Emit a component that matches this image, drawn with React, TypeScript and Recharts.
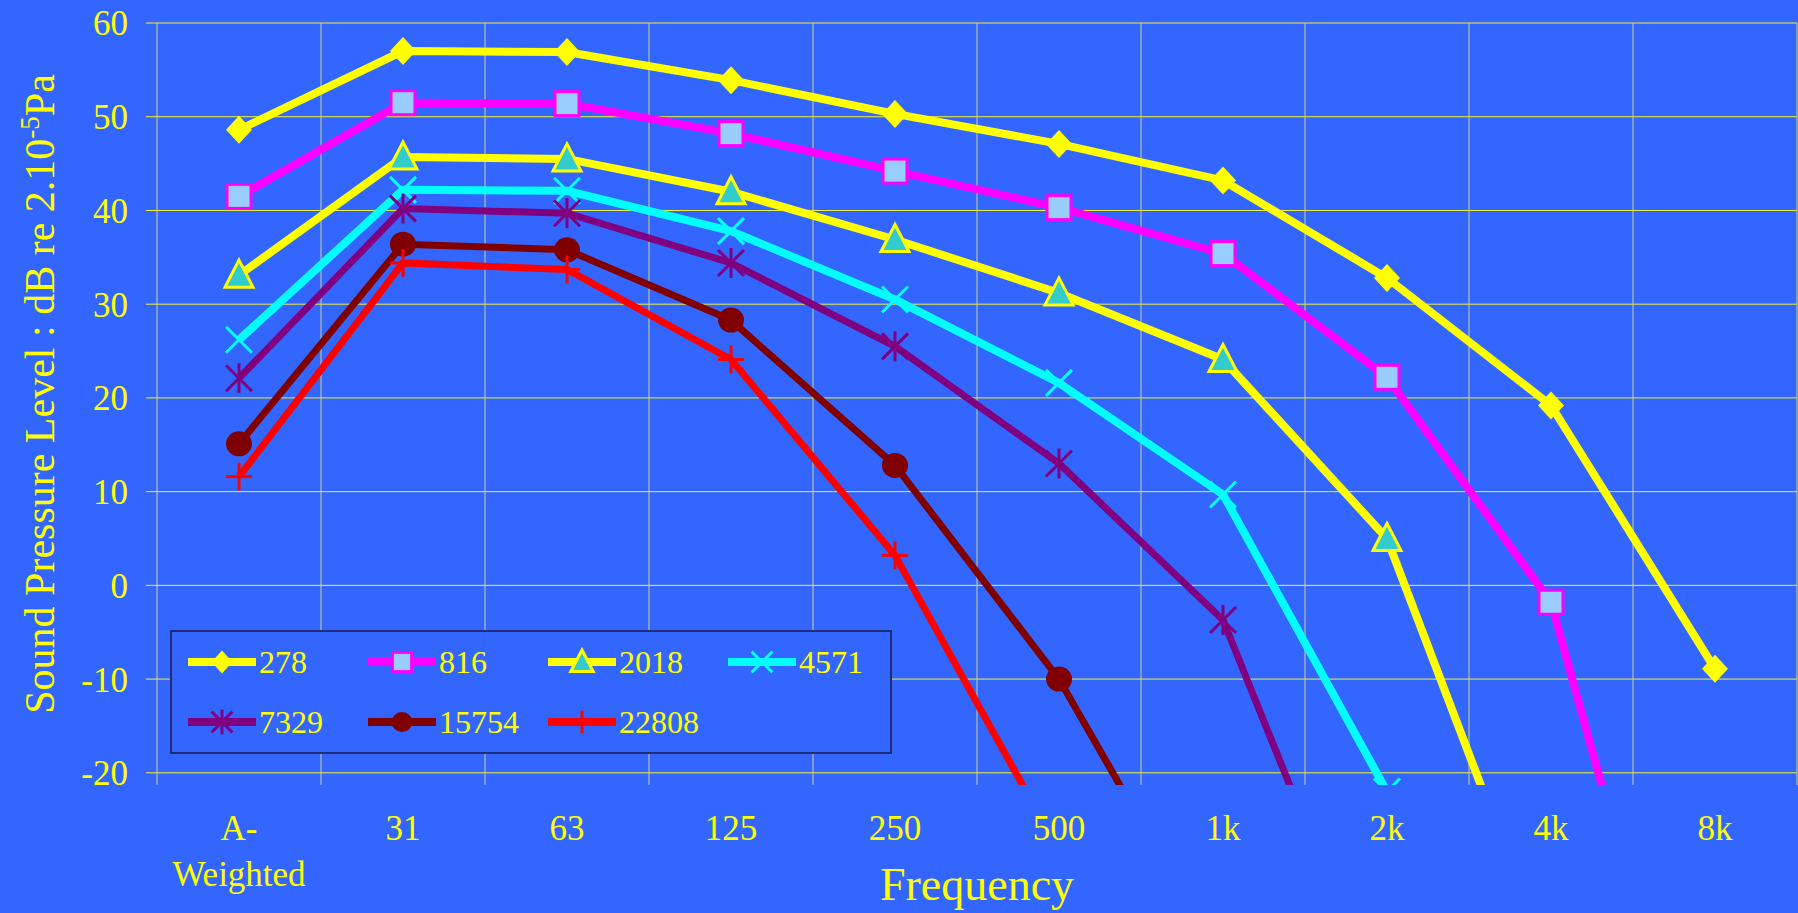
import { LineChart, Line, XAxis, YAxis, CartesianGrid } from "recharts";

const categories = ["A-Weighted", "31", "63", "125", "250", "500", "1k", "2k", "4k", "8k"];

// dB readings per series (null = off the bottom of the chart)
const spl278 = [48.6, 57.0, 56.9, 53.9, 50.3, 47.1, 43.2, 32.8, 19.2, -8.9];
const spl816 = [41.5, 51.5, 51.4, 48.2, 44.2, 40.3, 35.4, 22.2, -1.8, -65];
const spl2018 = [33.1, 45.7, 45.5, 42.0, 36.9, 31.2, 24.1, 5.0, -41, null];
const spl4571 = [26.2, 42.2, 42.1, 37.8, 30.5, 21.6, 9.7, -22, null, null];
const spl7329 = [22.1, 40.2, 39.7, 34.4, 25.5, 13.0, -3.7, -47, null, null];
const spl15754 = [15.1, 36.4, 35.8, 28.3, 12.8, -10.0, -40.5, null, null, null];
const spl22808 = [11.6, 34.4, 33.7, 24.1, 3.2, -28.3, null, null, null, null];

const yTicks = [-20, -10, 0, 10, 20, 30, 40, 50, 60];

const YELLOW = "#ffff00";
const BG = "#3366ff";
const FONT = "'Liberation Serif', 'Times New Roman', serif";

type MarkerKind = "diamond" | "square" | "triangle" | "x" | "star" | "circle" | "plus";

const series: { name: string; values: (number | null)[]; color: string; marker: MarkerKind; width: number }[] = [
	{ name: "278", values: spl278, color: "#ffff00", marker: "diamond", width: 8 },
	{ name: "816", values: spl816, color: "#ff00ff", marker: "square", width: 8 },
	{ name: "2018", values: spl2018, color: "#ffff00", marker: "triangle", width: 8 },
	{ name: "4571", values: spl4571, color: "#00ffff", marker: "x", width: 8 },
	{ name: "7329", values: spl7329, color: "#800080", marker: "star", width: 7 },
	{ name: "15754", values: spl15754, color: "#800000", marker: "circle", width: 7 },
	{ name: "22808", values: spl22808, color: "#ff0000", marker: "plus", width: 7 },
];

const data = categories.map((band, i) => {
	const row: Record<string, number | string | null> = { band, pos: i + 0.5 };
	series.forEach((s) => {
		row[s.name] = s.values[i];
	});
	return row;
});

const boundaryTicks = categories.map((_, i) => i).concat(categories.length);
const centerTicks = categories.map((_, i) => i + 0.5);

function Marker({ kind, x, y, color, s = 1 }: { kind: MarkerKind; x: number; y: number; color: string; s?: number }) {
	const k = 13 * s;
	switch (kind) {
		case "diamond":
			return <polygon points={`${x},${y - k - 1} ${x + k},${y} ${x},${y + k + 1} ${x - k},${y}`} fill={color} />;
		case "square":
			return <rect x={x - 12 * s} y={y - 12 * s} width={24 * s} height={24 * s} fill="#99ccff" stroke={color} strokeWidth={3} />;
		case "triangle":
			return (
				<polygon
					points={`${x},${y - 15 * s} ${x + 14 * s},${y + 12 * s} ${x - 14 * s},${y + 12 * s}`}
					fill="#33cccc"
					stroke={color}
					strokeWidth={3}
				/>
			);
		case "x":
			return (
				<g stroke={color} strokeWidth={3}>
					<line x1={x - k} y1={y - k} x2={x + k} y2={y + k} />
					<line x1={x - k} y1={y + k} x2={x + k} y2={y - k} />
				</g>
			);
		case "star":
			return (
				<g stroke={color} strokeWidth={3}>
					<line x1={x - k} y1={y - k} x2={x + k} y2={y + k} />
					<line x1={x - k} y1={y + k} x2={x + k} y2={y - k} />
					<line x1={x} y1={y - k - 2} x2={x} y2={y + k + 2} />
				</g>
			);
		case "circle":
			return <ellipse cx={x} cy={y} rx={13 * s} ry={12.5 * s} fill={color} />;
		case "plus":
		default:
			return (
				<g stroke={color} strokeWidth={3}>
					<line x1={x - k} y1={y} x2={x + k} y2={y} />
					<line x1={x} y1={y - k - 1} x2={x} y2={y + k + 1} />
				</g>
			);
	}
}

function BandTick(props: any) {
	const { x, y, payload } = props;
	const label = categories[Math.floor(payload.value)] ?? "";
	const lines = label === "A-Weighted" ? ["A-", "Weighted"] : [label];
	return (
		<g>
			{lines.map((l, i) => (
				<text key={i} x={x} y={y + 55 + i * 46} textAnchor="middle" fill={YELLOW} fontSize={35} fontFamily={FONT}>
					{l}
				</text>
			))}
		</g>
	);
}

function YTitle(props: any) {
	const vb = props?.viewBox ?? { x: 0, y: 23, width: 157, height: 762 };
	const cx = 54;
	const cy = vb.y + vb.height / 2 - 10;
	return (
		<text x={cx} y={cy} transform={`rotate(-90, ${cx}, ${cy})`} textAnchor="middle" fill={YELLOW} fontSize={42} fontFamily={FONT}>
			Sound Pressure Level : dB re 2.10
			<tspan dy={-15} fontSize={27}>
				-5
			</tspan>
			<tspan dy={15}>Pa</tspan>
		</text>
	);
}

// vertical grid lines sit on the category boundaries, not the centres
const boundaryLines = ({ xAxis, offset }: any) =>
	boundaryTicks.map((b) =>
		typeof xAxis?.scale === "function" ? xAxis.scale(b) : offset.left + (offset.width * b) / categories.length
	);

function LegendBox() {
	return (
		<div
			style={{
				position: "absolute",
				left: 170,
				top: 630,
				width: 722,
				height: 124,
				boxSizing: "border-box",
				border: "2px solid #1c2a78",
				background: BG,
				padding: "0 0 0 15px",
				display: "grid",
				gridTemplateColumns: "repeat(4, 180px)",
				gridAutoRows: 60,
				fontFamily: FONT,
				color: YELLOW,
				fontSize: 32,
			}}
		>
			{series.map((s) => (
				<div key={s.name} style={{ display: "flex", alignItems: "center" }}>
					<svg width={70} height={40} style={{ display: "block" }}>
						<line x1={1} y1={20} x2={69} y2={20} stroke={s.color} strokeWidth={8} />
						<Marker kind={s.marker} x={35} y={20} color={s.color} s={0.8} />
					</svg>
					<span style={{ marginLeft: 2, lineHeight: 1 }}>{s.name}</span>
				</div>
			))}
		</div>
	);
}

export default function App() {
	return (
		<div style={{ position: "absolute", left: 0, top: 0, width: 1798, height: 913, background: BG }}>
			<LineChart width={1798} height={913} data={data} margin={{ top: 23, right: 1, bottom: 0, left: 0 }}>
				<XAxis
					xAxisId="band"
					type="number"
					dataKey="pos"
					domain={[0, categories.length]}
					ticks={centerTicks}
					tick={<BandTick />}
					tickLine={false}
					axisLine={false}
					tickSize={0}
					tickMargin={0}
					height={128}
					interval={0}
					label={{ value: "Frequency", position: "insideBottom", offset: 13, fill: YELLOW, fontSize: 46, fontFamily: FONT }}
				/>
				<YAxis
					type="number"
					domain={[-21.3, 60]}
					allowDataOverflow
					ticks={yTicks}
					interval={0}
					width={157}
					axisLine={false}
					tickSize={11}
					tickMargin={18}
					tickLine={{ stroke: "#f2f230", strokeWidth: 1 }}
					tick={{ fill: YELLOW, fontSize: 35, fontFamily: FONT }}
					label={(p: any) => <YTitle {...p} />}
				/>
				<CartesianGrid
					xAxisId="band"
					horizontal={true}
					vertical={false}
					horizontalValues={yTicks}
					stroke="#f2f230"
					strokeWidth={1}
				/>
				<CartesianGrid
					xAxisId="band"
					horizontal={false}
					vertical={true}
					verticalCoordinatesGenerator={boundaryLines}
					stroke="#d0d080"
					strokeWidth={1}
				/>
				{series.map((s) => (
					<Line
						key={s.name}
						xAxisId="band"
						type="linear"
						dataKey={s.name}
						stroke={s.color}
						strokeWidth={s.width}
						isAnimationActive={false}
						activeDot={false}
						connectNulls={false}
						dot={(p: any) =>
							p.cy == null || p.value == null ? (
								<g key={`${s.name}-${p.index}`} />
							) : (
								<Marker key={`${s.name}-${p.index}`} kind={s.marker} x={p.cx} y={p.cy} color={s.color} />
							)
						}
					/>
				))}
			</LineChart>
			<LegendBox />
		</div>
	);
}
